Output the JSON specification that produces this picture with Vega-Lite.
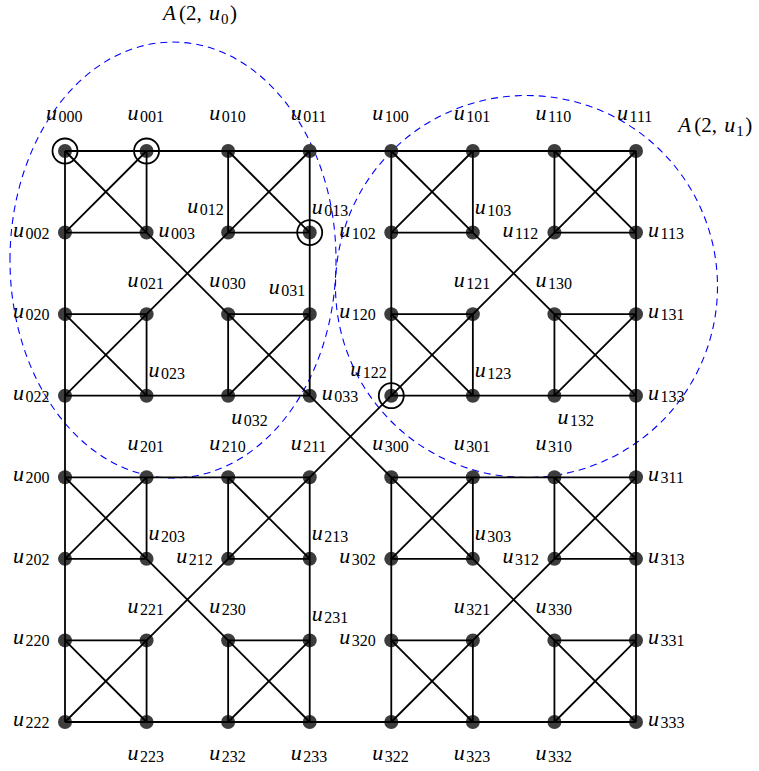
{
"$schema": "https://vega.github.io/schema/vega-lite/v6.json",
"width": 759, "height": 771, "padding": 0, "autosize": {"type": "none"},
"background": "white",
"config": {"view": {"stroke": null}},
"datasets": {
"nodes": [
{"n":"000","c":0,"r":0,"p":"top"},{"n":"001","c":1,"r":0,"p":"top"},{"n":"010","c":2,"r":0,"p":"top"},{"n":"011","c":3,"r":0,"p":"top"},
{"n":"002","c":0,"r":1,"p":"left"},{"n":"003","c":1,"r":1,"p":"right"},{"n":"012","c":2,"r":1,"p":"ul"},{"n":"013","c":3,"r":1,"p":"ur"},
{"n":"020","c":0,"r":2,"p":"left"},{"n":"021","c":1,"r":2,"p":"above"},{"n":"030","c":2,"r":2,"p":"above"},{"n":"031","c":3,"r":2,"p":"ul"},
{"n":"022","c":0,"r":3,"p":"left"},{"n":"023","c":1,"r":3,"p":"ur"},{"n":"032","c":2,"r":3,"p":"lr"},{"n":"033","c":3,"r":3,"p":"right"},
{"n":"100","c":4,"r":0,"p":"top"},{"n":"101","c":5,"r":0,"p":"top"},{"n":"110","c":6,"r":0,"p":"top"},{"n":"111","c":7,"r":0,"p":"top"},
{"n":"102","c":4,"r":1,"p":"left"},{"n":"103","c":5,"r":1,"p":"ur"},{"n":"112","c":6,"r":1,"p":"left"},{"n":"113","c":7,"r":1,"p":"right"},
{"n":"120","c":4,"r":2,"p":"left"},{"n":"121","c":5,"r":2,"p":"above"},{"n":"130","c":6,"r":2,"p":"above"},{"n":"131","c":7,"r":2,"p":"right"},
{"n":"122","c":4,"r":3,"p":"ul"},{"n":"123","c":5,"r":3,"p":"ur"},{"n":"132","c":6,"r":3,"p":"lr"},{"n":"133","c":7,"r":3,"p":"right"},
{"n":"200","c":0,"r":4,"p":"left"},{"n":"201","c":1,"r":4,"p":"above"},{"n":"210","c":2,"r":4,"p":"above"},{"n":"211","c":3,"r":4,"p":"above"},
{"n":"202","c":0,"r":5,"p":"left"},{"n":"203","c":1,"r":5,"p":"ur"},{"n":"212","c":2,"r":5,"p":"left"},{"n":"213","c":3,"r":5,"p":"ur"},
{"n":"220","c":0,"r":6,"p":"left"},{"n":"221","c":1,"r":6,"p":"above"},{"n":"230","c":2,"r":6,"p":"above"},{"n":"231","c":3,"r":6,"p":"ur"},
{"n":"222","c":0,"r":7,"p":"left"},{"n":"223","c":1,"r":7,"p":"below"},{"n":"232","c":2,"r":7,"p":"below"},{"n":"233","c":3,"r":7,"p":"below"},
{"n":"300","c":4,"r":4,"p":"above"},{"n":"301","c":5,"r":4,"p":"above"},{"n":"310","c":6,"r":4,"p":"above"},{"n":"311","c":7,"r":4,"p":"right"},
{"n":"302","c":4,"r":5,"p":"left"},{"n":"303","c":5,"r":5,"p":"ur"},{"n":"312","c":6,"r":5,"p":"left"},{"n":"313","c":7,"r":5,"p":"right"},
{"n":"320","c":4,"r":6,"p":"left"},{"n":"321","c":5,"r":6,"p":"above"},{"n":"330","c":6,"r":6,"p":"above"},{"n":"331","c":7,"r":6,"p":"right"},
{"n":"322","c":4,"r":7,"p":"below"},{"n":"323","c":5,"r":7,"p":"below"},{"n":"332","c":6,"r":7,"p":"below"},{"n":"333","c":7,"r":7,"p":"right"}
],
"edges": [
{"s":"000","t":"001"},{"s":"000","t":"002"},{"s":"002","t":"003"},{"s":"001","t":"003"},{"s":"000","t":"003"},{"s":"001","t":"002"},
{"s":"010","t":"011"},{"s":"010","t":"012"},{"s":"012","t":"013"},{"s":"011","t":"013"},{"s":"010","t":"013"},{"s":"011","t":"012"},
{"s":"020","t":"021"},{"s":"020","t":"022"},{"s":"022","t":"023"},{"s":"021","t":"023"},{"s":"020","t":"023"},{"s":"021","t":"022"},
{"s":"030","t":"031"},{"s":"030","t":"032"},{"s":"032","t":"033"},{"s":"031","t":"033"},{"s":"030","t":"033"},{"s":"031","t":"032"},
{"s":"100","t":"101"},{"s":"100","t":"102"},{"s":"102","t":"103"},{"s":"101","t":"103"},{"s":"100","t":"103"},{"s":"101","t":"102"},
{"s":"110","t":"111"},{"s":"110","t":"112"},{"s":"112","t":"113"},{"s":"111","t":"113"},{"s":"110","t":"113"},{"s":"111","t":"112"},
{"s":"120","t":"121"},{"s":"120","t":"122"},{"s":"122","t":"123"},{"s":"121","t":"123"},{"s":"120","t":"123"},{"s":"121","t":"122"},
{"s":"130","t":"131"},{"s":"130","t":"132"},{"s":"132","t":"133"},{"s":"131","t":"133"},{"s":"130","t":"133"},{"s":"131","t":"132"},
{"s":"200","t":"201"},{"s":"200","t":"202"},{"s":"202","t":"203"},{"s":"201","t":"203"},{"s":"200","t":"203"},{"s":"201","t":"202"},
{"s":"210","t":"211"},{"s":"210","t":"212"},{"s":"212","t":"213"},{"s":"211","t":"213"},{"s":"210","t":"213"},{"s":"211","t":"212"},
{"s":"220","t":"221"},{"s":"220","t":"222"},{"s":"222","t":"223"},{"s":"221","t":"223"},{"s":"220","t":"223"},{"s":"221","t":"222"},
{"s":"230","t":"231"},{"s":"230","t":"232"},{"s":"232","t":"233"},{"s":"231","t":"233"},{"s":"230","t":"233"},{"s":"231","t":"232"},
{"s":"300","t":"301"},{"s":"300","t":"302"},{"s":"302","t":"303"},{"s":"301","t":"303"},{"s":"300","t":"303"},{"s":"301","t":"302"},
{"s":"310","t":"311"},{"s":"310","t":"312"},{"s":"312","t":"313"},{"s":"311","t":"313"},{"s":"310","t":"313"},{"s":"311","t":"312"},
{"s":"320","t":"321"},{"s":"320","t":"322"},{"s":"322","t":"323"},{"s":"321","t":"323"},{"s":"320","t":"323"},{"s":"321","t":"322"},
{"s":"330","t":"331"},{"s":"330","t":"332"},{"s":"332","t":"333"},{"s":"331","t":"333"},{"s":"330","t":"333"},{"s":"331","t":"332"},
{"s":"001","t":"010"},{"s":"002","t":"020"},{"s":"023","t":"032"},{"s":"013","t":"031"},{"s":"003","t":"030"},{"s":"012","t":"021"},
{"s":"101","t":"110"},{"s":"102","t":"120"},{"s":"123","t":"132"},{"s":"113","t":"131"},{"s":"103","t":"130"},{"s":"112","t":"121"},
{"s":"201","t":"210"},{"s":"202","t":"220"},{"s":"223","t":"232"},{"s":"213","t":"231"},{"s":"203","t":"230"},{"s":"212","t":"221"},
{"s":"301","t":"310"},{"s":"302","t":"320"},{"s":"323","t":"332"},{"s":"313","t":"331"},{"s":"303","t":"330"},{"s":"312","t":"321"},
{"s":"011","t":"100"},{"s":"022","t":"200"},{"s":"233","t":"322"},{"s":"133","t":"311"},{"s":"033","t":"300"},{"s":"122","t":"211"}
],
"ringed": [{"n":"000"},{"n":"001"},{"n":"013"},{"n":"122"}],
"regions": [
{"id":"0","sub":"0","cx":1.324,"cy":1.3363,"ax":1.2014,"ay":-1.6084},
{"id":"1","sub":"1","cx":5.6576,"cy":1.6611,"ax":7.5186,"ay":-0.2366}
]
},
"data": {"name": "nodes"},
"encoding": {
"x": {"field":"c","type":"quantitative","scale":{"domain":[-0.79685,8.50794]},"axis":null},
"y": {"field":"r","type":"quantitative","scale":{"domain":[-1.85114,7.60075],"reverse":true},"axis":null}
},
"layer": [
{"data":{"name":"regions"},"transform":[{"filter":"datum.id==='0'"}],
 "mark":{"type":"point","shape":"M-1,0C-1,-0.7384,-0.5523,-1.337,0,-1.337C0.5523,-1.337,1,-0.7384,1,0C1,0.7384,0.5523,1.337,0,1.337C-0.5523,1.337,-1,0.7384,-1,0Z","size":106276,"filled":false,"stroke":"#0000ff","strokeWidth":1.1,"strokeDash":[7,5],"opacity":1},
 "encoding":{"x":{"field":"cx","type":"quantitative","scale":{"domain":[-0.79685,8.50794]},"axis":null},"y":{"field":"cy","type":"quantitative","scale":{"domain":[-1.85114,7.60075],"reverse":true},"axis":null}}},
{"data":{"name":"regions"},"transform":[{"filter":"datum.id==='1'"}],
 "mark":{"type":"point","shape":"circle","size":145924,"filled":false,"stroke":"#0000ff","strokeWidth":1.1,"strokeDash":[7,5],"opacity":1},
 "encoding":{"x":{"field":"cx","type":"quantitative","scale":{"domain":[-0.79685,8.50794]},"axis":null},"y":{"field":"cy","type":"quantitative","scale":{"domain":[-1.85114,7.60075],"reverse":true},"axis":null}}},
{"mark":{"type":"point","shape":"circle","filled":true,"color":"#3d3d3d","size":196,"opacity":1}},
{"data":{"name":"edges"},
 "transform":[
  {"lookup":"s","from":{"data":{"name":"nodes"},"key":"n","fields":["c","r"]},"as":["sc","sr"]},
  {"lookup":"t","from":{"data":{"name":"nodes"},"key":"n","fields":["c","r"]},"as":["tc","tr"]}],
 "mark":{"type":"rule","color":"black","strokeWidth":1.8},
 "encoding":{
  "x":{"field":"sc","type":"quantitative","scale":{"domain":[-0.79685,8.50794]},"axis":null},
  "y":{"field":"sr","type":"quantitative","scale":{"domain":[-1.85114,7.60075],"reverse":true},"axis":null},
  "x2":{"field":"tc"},"y2":{"field":"tr"}}},
{"data":{"name":"ringed"},
 "transform":[{"lookup":"n","from":{"data":{"name":"nodes"},"key":"n","fields":["c","r"]}}],
 "mark":{"type":"point","shape":"circle","filled":false,"stroke":"black","strokeWidth":1.8,"size":625,"opacity":1}},

{"transform":[{"filter":"datum.p==='top'"}],"mark":{"type":"text","text":"u","font":"Liberation Serif","fontStyle":"italic","fontSize":22,"align":"left","baseline":"alphabetic","dx":-19,"dy":-31,"color":"black"}},
{"transform":[{"filter":"datum.p==='top'"}],"mark":{"type":"text","font":"Liberation Serif","fontSize":16,"align":"left","baseline":"alphabetic","dx":-6.5,"dy":-29,"color":"black"},"encoding":{"text":{"field":"n","type":"nominal"}}},
{"transform":[{"filter":"datum.p==='above'"}],"mark":{"type":"text","text":"u","font":"Liberation Serif","fontStyle":"italic","fontSize":22,"align":"left","baseline":"alphabetic","dx":-19,"dy":-27,"color":"black"}},
{"transform":[{"filter":"datum.p==='above'"}],"mark":{"type":"text","font":"Liberation Serif","fontSize":16,"align":"left","baseline":"alphabetic","dx":-6.5,"dy":-25,"color":"black"},"encoding":{"text":{"field":"n","type":"nominal"}}},
{"transform":[{"filter":"datum.p==='below'"}],"mark":{"type":"text","text":"u","font":"Liberation Serif","fontStyle":"italic","fontSize":22,"align":"left","baseline":"alphabetic","dx":-19,"dy":38,"color":"black"}},
{"transform":[{"filter":"datum.p==='below'"}],"mark":{"type":"text","font":"Liberation Serif","fontSize":16,"align":"left","baseline":"alphabetic","dx":-6.5,"dy":40,"color":"black"},"encoding":{"text":{"field":"n","type":"nominal"}}},
{"transform":[{"filter":"datum.p==='left'"}],"mark":{"type":"text","text":"u","font":"Liberation Serif","fontStyle":"italic","fontSize":22,"align":"left","baseline":"alphabetic","dx":-52,"dy":4,"color":"black"}},
{"transform":[{"filter":"datum.p==='left'"}],"mark":{"type":"text","font":"Liberation Serif","fontSize":16,"align":"left","baseline":"alphabetic","dx":-39.5,"dy":6,"color":"black"},"encoding":{"text":{"field":"n","type":"nominal"}}},
{"transform":[{"filter":"datum.p==='right'"}],"mark":{"type":"text","text":"u","font":"Liberation Serif","fontStyle":"italic","fontSize":22,"align":"left","baseline":"alphabetic","dx":12,"dy":4,"color":"black"}},
{"transform":[{"filter":"datum.p==='right'"}],"mark":{"type":"text","font":"Liberation Serif","fontSize":16,"align":"left","baseline":"alphabetic","dx":24.5,"dy":6,"color":"black"},"encoding":{"text":{"field":"n","type":"nominal"}}},
{"transform":[{"filter":"datum.p==='ul'"}],"mark":{"type":"text","text":"u","font":"Liberation Serif","fontStyle":"italic","fontSize":22,"align":"left","baseline":"alphabetic","dx":-41,"dy":-20,"color":"black"}},
{"transform":[{"filter":"datum.p==='ul'"}],"mark":{"type":"text","font":"Liberation Serif","fontSize":16,"align":"left","baseline":"alphabetic","dx":-28.5,"dy":-18,"color":"black"},"encoding":{"text":{"field":"n","type":"nominal"}}},
{"transform":[{"filter":"datum.p==='ur'"}],"mark":{"type":"text","text":"u","font":"Liberation Serif","fontStyle":"italic","fontSize":22,"align":"left","baseline":"alphabetic","dx":2,"dy":-19,"color":"black"}},
{"transform":[{"filter":"datum.p==='ur'"}],"mark":{"type":"text","font":"Liberation Serif","fontSize":16,"align":"left","baseline":"alphabetic","dx":14.5,"dy":-17,"color":"black"},"encoding":{"text":{"field":"n","type":"nominal"}}},
{"transform":[{"filter":"datum.p==='lr'"}],"mark":{"type":"text","text":"u","font":"Liberation Serif","fontStyle":"italic","fontSize":22,"align":"left","baseline":"alphabetic","dx":3,"dy":28,"color":"black"}},
{"transform":[{"filter":"datum.p==='lr'"}],"mark":{"type":"text","font":"Liberation Serif","fontSize":16,"align":"left","baseline":"alphabetic","dx":15.5,"dy":30,"color":"black"},"encoding":{"text":{"field":"n","type":"nominal"}}},

{"data":{"name":"regions"},"mark":{"type":"text","text":"A","font":"Liberation Serif","fontStyle":"italic","fontSize":21,"align":"left","baseline":"alphabetic","dx":0,"dy":0,"color":"black"},
 "encoding":{"x":{"field":"ax","type":"quantitative","scale":{"domain":[-0.79685,8.50794]},"axis":null},"y":{"field":"ay","type":"quantitative","scale":{"domain":[-1.85114,7.60075],"reverse":true},"axis":null}}},
{"data":{"name":"regions"},"mark":{"type":"text","text":"(2,","font":"Liberation Serif","fontSize":21,"align":"left","baseline":"alphabetic","dx":16,"dy":0,"color":"black"},
 "encoding":{"x":{"field":"ax","type":"quantitative","scale":{"domain":[-0.79685,8.50794]},"axis":null},"y":{"field":"ay","type":"quantitative","scale":{"domain":[-1.85114,7.60075],"reverse":true},"axis":null}}},
{"data":{"name":"regions"},"mark":{"type":"text","text":"u","font":"Liberation Serif","fontStyle":"italic","fontSize":22,"align":"left","baseline":"alphabetic","dx":46,"dy":0,"color":"black"},
 "encoding":{"x":{"field":"ax","type":"quantitative","scale":{"domain":[-0.79685,8.50794]},"axis":null},"y":{"field":"ay","type":"quantitative","scale":{"domain":[-1.85114,7.60075],"reverse":true},"axis":null}}},
{"data":{"name":"regions"},"mark":{"type":"text","font":"Liberation Serif","fontSize":15,"align":"left","baseline":"alphabetic","dx":58,"dy":4,"color":"black"},
 "encoding":{"text":{"field":"sub","type":"nominal"},"x":{"field":"ax","type":"quantitative","scale":{"domain":[-0.79685,8.50794]},"axis":null},"y":{"field":"ay","type":"quantitative","scale":{"domain":[-1.85114,7.60075],"reverse":true},"axis":null}}},
{"data":{"name":"regions"},"mark":{"type":"text","text":")","font":"Liberation Serif","fontSize":21,"align":"left","baseline":"alphabetic","dx":67,"dy":0,"color":"black"},
 "encoding":{"x":{"field":"ax","type":"quantitative","scale":{"domain":[-0.79685,8.50794]},"axis":null},"y":{"field":"ay","type":"quantitative","scale":{"domain":[-1.85114,7.60075],"reverse":true},"axis":null}}}
]
}
